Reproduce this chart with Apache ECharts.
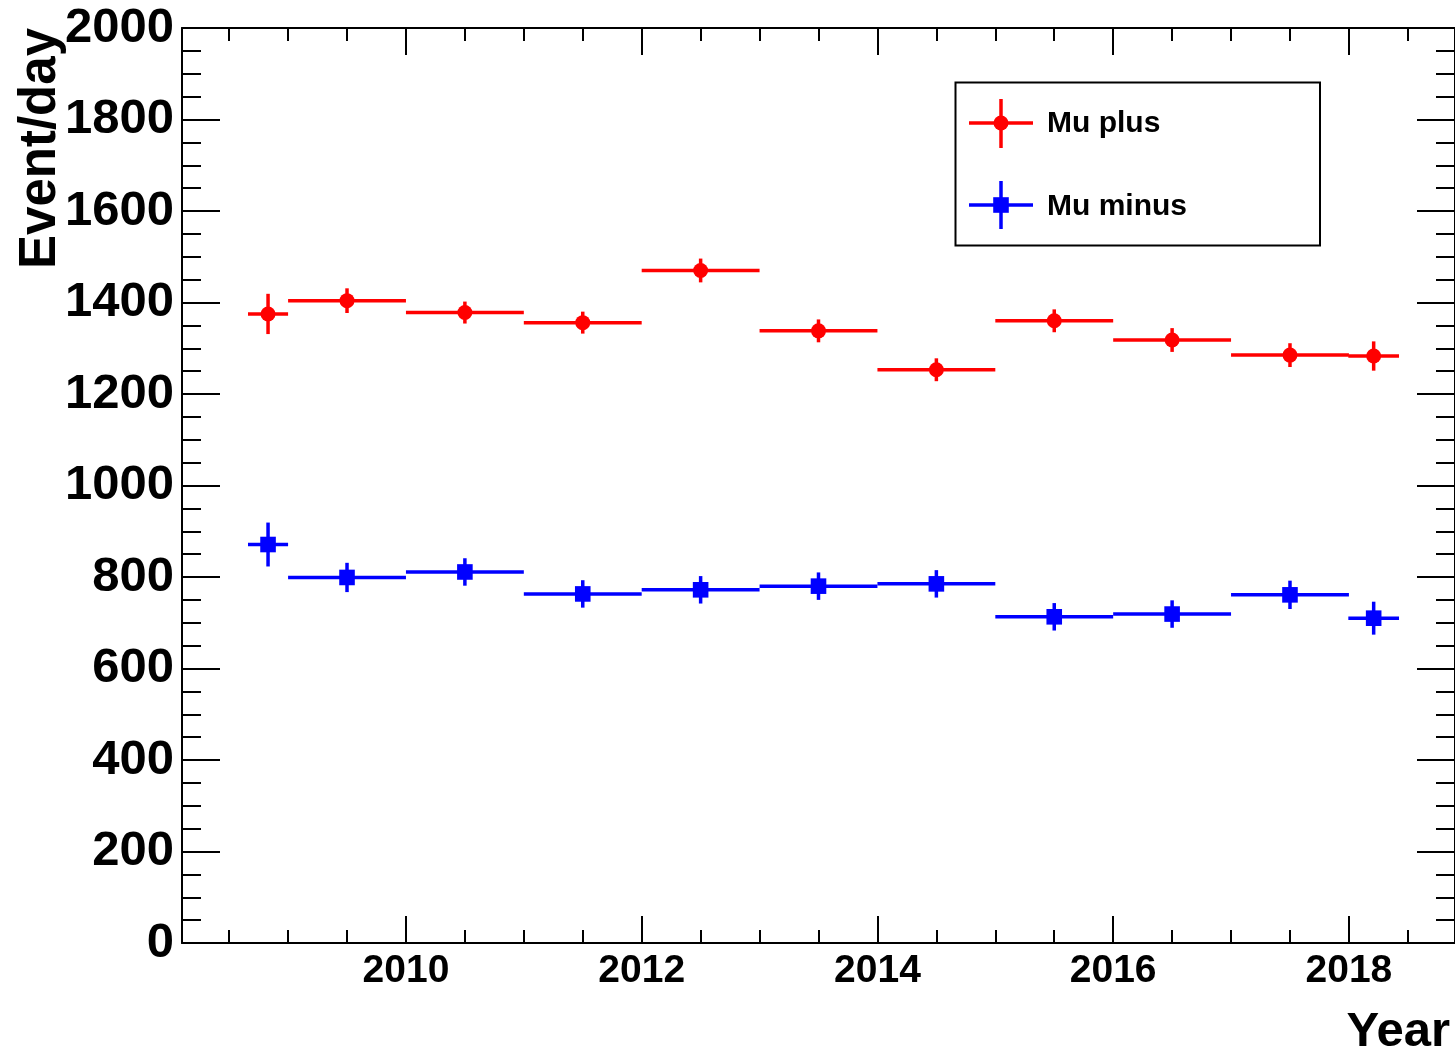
<!DOCTYPE html>
<html>
<head>
<meta charset="utf-8">
<title>Event/day</title>
<script src="https://cdn.jsdelivr.net/npm/echarts@6/dist/echarts.min.js"></script>
<style>
  html, body { margin: 0; padding: 0; background: #fff; }
  #chart { width: 1455px; height: 1052px; }
</style>
</head>
<body>
<div id="chart"></div>
<script>
// Bin centres (year) and half-widths of each bin
const years     = [2008.83, 2009.5, 2010.5, 2011.5, 2012.5, 2013.5, 2014.5, 2015.5, 2016.5, 2017.5, 2018.21];
const halfWidth = [0.17, 0.5, 0.5, 0.5, 0.5, 0.5, 0.5, 0.5, 0.5, 0.5, 0.215];

// Mu plus rate and its error
const muPlus    = [1375, 1404, 1378, 1356, 1470, 1338, 1253, 1360, 1318, 1285, 1283];
const muPlusErr = [44, 27, 24, 24, 26, 25, 25, 25, 26, 26, 32];

// Mu minus rate and its error
const muMinus    = [871, 799, 811, 763, 772, 780, 785, 713, 719, 761, 710];
const muMinusErr = [48, 32, 30, 30, 30, 30, 30, 30, 30, 31, 36];

// Axis tick positions
const majorYears = [2010, 2012, 2014, 2016, 2018];
const minorYears = [2008.5, 2009, 2009.5, 2010, 2010.5, 2011, 2011.5, 2012, 2012.5, 2013, 2013.5,
                    2014, 2014.5, 2015, 2015.5, 2016, 2016.5, 2017, 2017.5, 2018, 2018.5];

const FONT = '"Liberation Sans", Arial, Helvetica, sans-serif';
const X_MIN = 2008.1, X_MAX = 2018.9;

function points(vals, errs) {
  return years.map((x, i) => [x, halfWidth[i], vals[i], errs[i]]);
}

function errorRenderer(color, shape) {
  return function (params, api) {
    const x = api.value(0), hw = api.value(1), y = api.value(2), e = api.value(3);
    const pl = api.coord([x - hw, y]);
    const pr = api.coord([x + hw, y]);
    const pc = api.coord([x, y]);
    const pt = api.coord([x, y + e]);
    const pb = api.coord([x, y - e]);
    const lw = 3.5;
    const marker = shape === 'circle'
      ? { type: 'circle', shape: { cx: pc[0], cy: pc[1], r: 7.5 }, style: { fill: color } }
      : { type: 'rect', shape: { x: pc[0] - 7.8, y: pc[1] - 7.8, width: 15.6, height: 15.6 }, style: { fill: color } };
    return {
      type: 'group',
      children: [
        { type: 'line', shape: { x1: pl[0], y1: pl[1], x2: pr[0], y2: pr[1] }, style: { stroke: color, lineWidth: lw } },
        { type: 'line', shape: { x1: pt[0], y1: pt[1], x2: pb[0], y2: pb[1] }, style: { stroke: color, lineWidth: lw } },
        marker
      ]
    };
  };
}

const axisLineStyle = { color: '#000', width: 2 };

function xAxisDef(position, ticks, length, showLine, showLabels) {
  return {
    type: 'value', min: X_MIN, max: X_MAX, position: position,
    axisLine: { show: showLine, onZero: false, lineStyle: axisLineStyle },
    axisTick: { show: true, inside: true, length: length, customValues: ticks, lineStyle: axisLineStyle },
    axisLabel: showLabels
      ? { show: true, customValues: majorYears, margin: 9, color: '#000',
          fontFamily: FONT, fontWeight: 'bold', fontSize: 39, formatter: v => String(Math.round(v)) }
      : { show: false },
    splitLine: { show: false }
  };
}

function yAxisDef(position, showLabels) {
  return {
    type: 'value', min: 0, max: 2000, interval: 200, position: position,
    axisLine: { show: true, onZero: false, lineStyle: axisLineStyle },
    axisTick: { show: true, inside: true, length: 38, lineStyle: axisLineStyle },
    minorTick: { show: true, splitNumber: 4, length: 19, lineStyle: axisLineStyle },
    axisLabel: showLabels
      ? { show: true, margin: 8, color: '#000', fontFamily: FONT, fontWeight: 'bold', fontSize: 49,
          formatter: v => String(Math.round(v)) }
      : { show: false },
    splitLine: { show: false },
    minorSplitLine: { show: false }
  };
}

const chart = echarts.init(document.getElementById('chart'), null, { renderer: 'canvas' });

chart.setOption({
  animation: false,
  backgroundColor: '#fff',
  grid: { left: 182, top: 28, width: 1275, height: 915, containLabel: false },
  xAxis: [
    xAxisDef('bottom', majorYears, 27, true, true),
    xAxisDef('bottom', minorYears, 13, false, false),
    xAxisDef('top', majorYears, 27, true, false),
    xAxisDef('top', minorYears, 13, false, false)
  ],
  yAxis: [
    yAxisDef('left', true),
    yAxisDef('right', false)
  ],
  series: [
    {
      name: 'Mu plus', type: 'custom', xAxisIndex: 0, yAxisIndex: 0,
      renderItem: errorRenderer('#ff0000', 'circle'),
      data: points(muPlus, muPlusErr)
    },
    {
      name: 'Mu minus', type: 'custom', xAxisIndex: 0, yAxisIndex: 0,
      renderItem: errorRenderer('#0000ff', 'square'),
      data: points(muMinus, muMinusErr)
    }
  ],
  graphic: [
    // axis titles
    {
      type: 'text', x: 41, y: 28, rotation: Math.PI / 2,
      style: { text: 'Event/day', fontFamily: FONT, fontWeight: 'bold', fontSize: 51,
               fill: '#000', align: 'right', verticalAlign: 'middle' }
    },
    {
      type: 'text', x: 1450, y: 1032,
      style: { text: 'Year', fontFamily: FONT, fontWeight: 'bold', fontSize: 49,
               fill: '#000', align: 'right', verticalAlign: 'middle' }
    },
    // legend box
    {
      type: 'rect', shape: { x: 955.5, y: 82.5, width: 364.5, height: 163 },
      style: { fill: '#fff', stroke: '#000', lineWidth: 2 }, z: 10
    },
    { type: 'line', shape: { x1: 969, y1: 123, x2: 1033, y2: 123 }, style: { stroke: '#ff0000', lineWidth: 3.5 }, z: 11 },
    { type: 'line', shape: { x1: 1001, y1: 99, x2: 1001, y2: 148 }, style: { stroke: '#ff0000', lineWidth: 3.5 }, z: 11 },
    { type: 'circle', shape: { cx: 1001, cy: 123, r: 7.5 }, style: { fill: '#ff0000' }, z: 11 },
    {
      type: 'text', x: 1047, y: 124, z: 11,
      style: { text: 'Mu plus', fontFamily: FONT, fontWeight: 'bold', fontSize: 30, fill: '#000', verticalAlign: 'middle' }
    },
    { type: 'line', shape: { x1: 969, y1: 205, x2: 1033, y2: 205 }, style: { stroke: '#0000ff', lineWidth: 3.5 }, z: 11 },
    { type: 'line', shape: { x1: 1001, y1: 181, x2: 1001, y2: 229 }, style: { stroke: '#0000ff', lineWidth: 3.5 }, z: 11 },
    { type: 'rect', shape: { x: 993.2, y: 197.2, width: 15.6, height: 15.6 }, style: { fill: '#0000ff' }, z: 11 },
    {
      type: 'text', x: 1047, y: 207, z: 11,
      style: { text: 'Mu minus', fontFamily: FONT, fontWeight: 'bold', fontSize: 30, fill: '#000', verticalAlign: 'middle' }
    }
  ]
});
</script>
</body>
</html>
